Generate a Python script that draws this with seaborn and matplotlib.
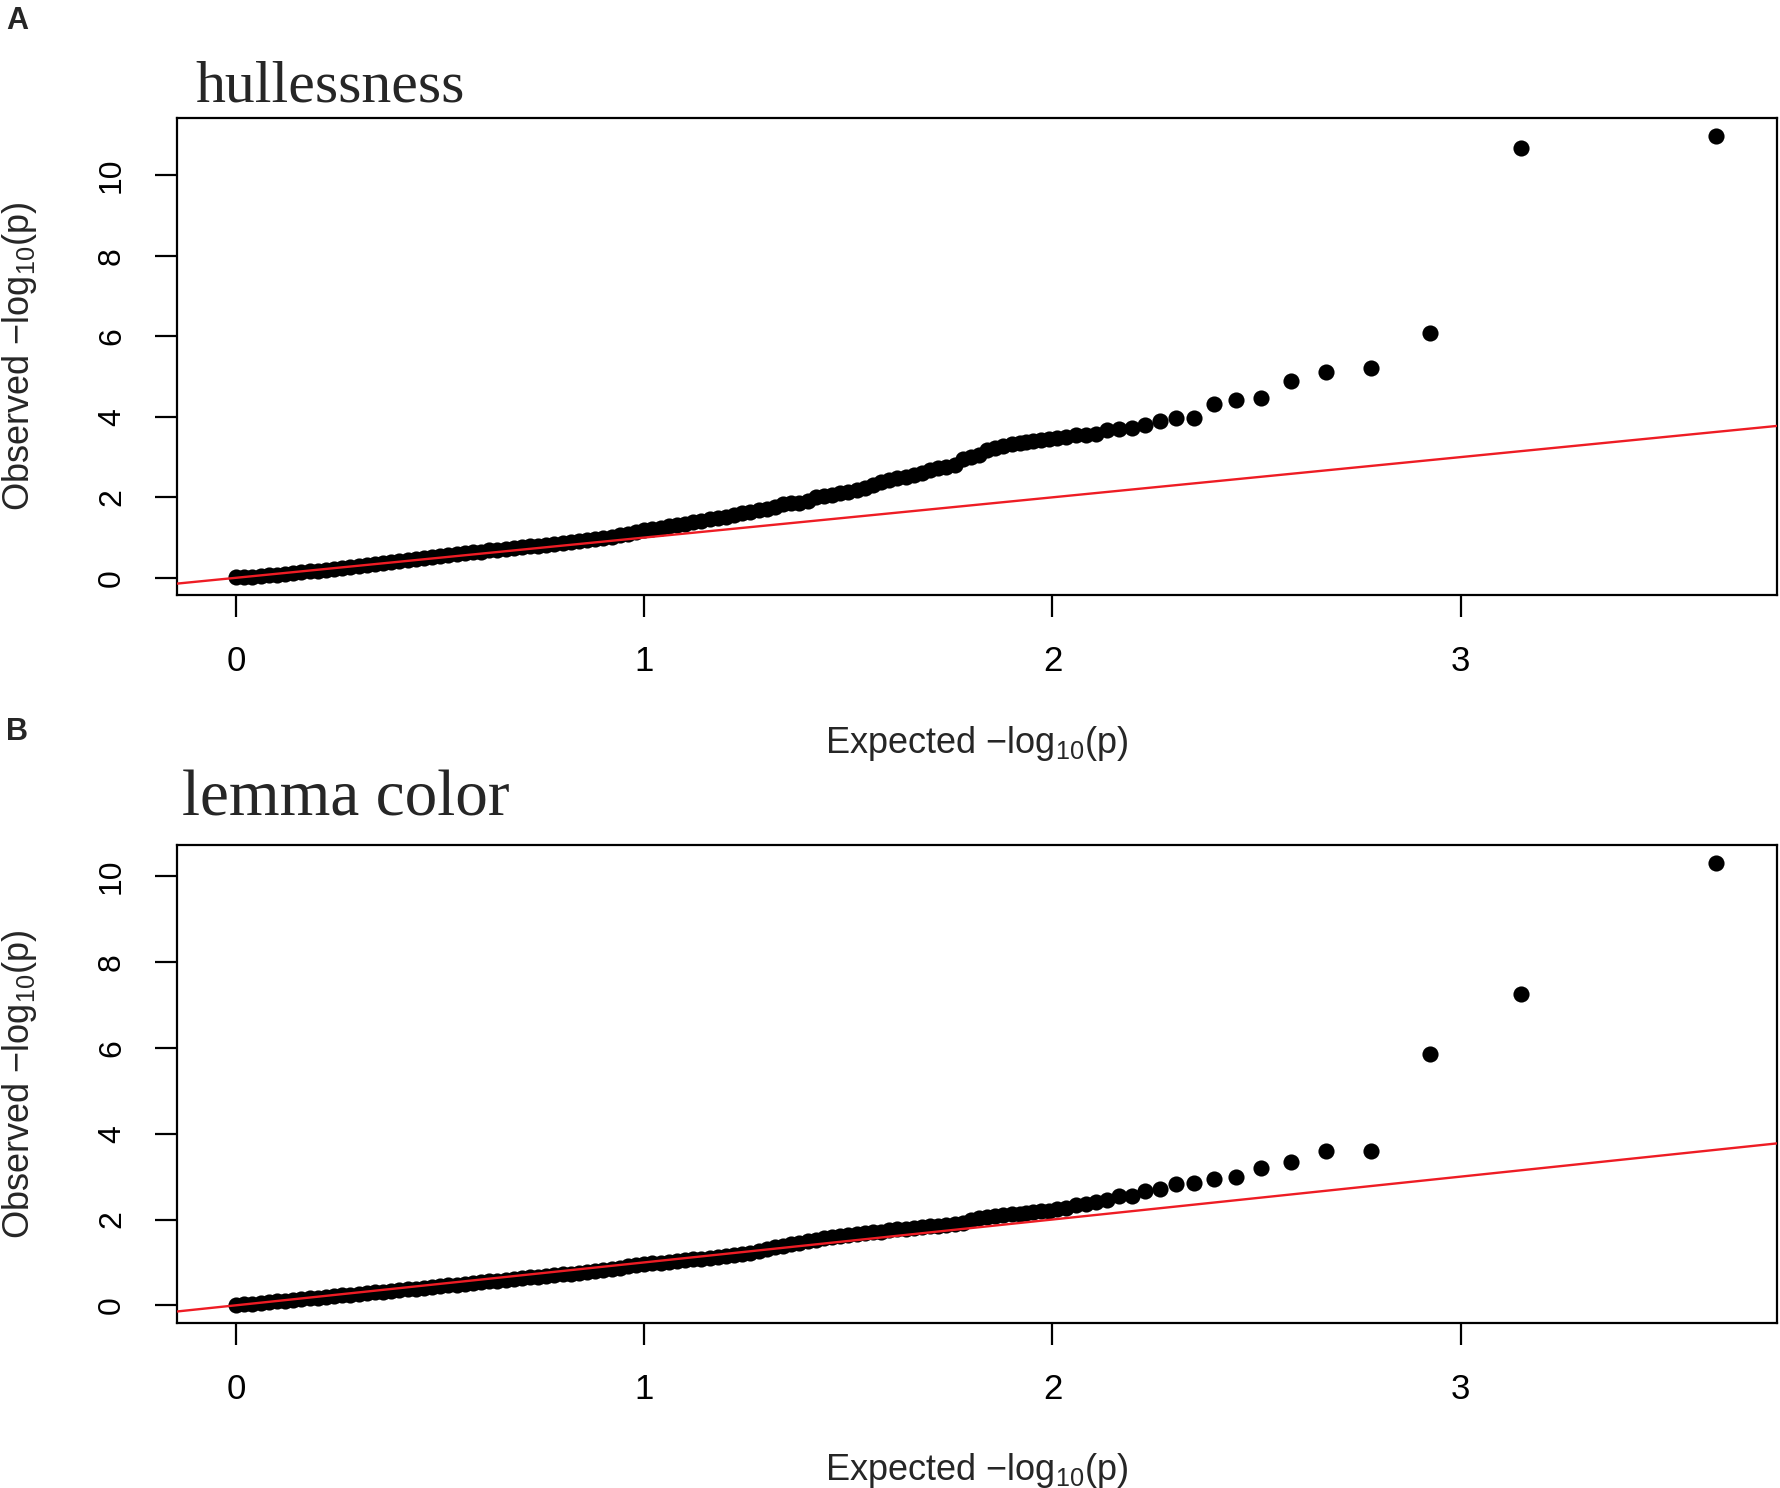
import numpy as np
import pandas as pd
import seaborn as sns
import matplotlib.pyplot as plt
from matplotlib import font_manager

sns.set_theme(style="ticks")

# шрифты
sans = "Liberation Sans"
names = {f.name for f in font_manager.fontManager.ttflist}
if sans not in names:
    sans = "DejaVu Sans"
plt.rcParams['font.family'] = [sans, 'DejaVu Sans']
plt.rcParams['mathtext.fontset'] = 'custom'
plt.rcParams['mathtext.rm'] = sans
plt.rcParams['mathtext.default'] = 'regular'

# Expected -log10(p) (общая для обеих панелей)
expected = [
    0.00, 0.02, 0.04, 0.06, 0.08, 0.10, 0.12, 0.14, 0.16, 0.18,
    0.20, 0.22, 0.24, 0.26, 0.28, 0.30, 0.32, 0.34, 0.36, 0.38,
    0.40, 0.42, 0.44, 0.46, 0.48, 0.50, 0.52, 0.54, 0.56, 0.58,
    0.60, 0.62, 0.64, 0.66, 0.68, 0.70, 0.72, 0.74, 0.76, 0.78,
    0.80, 0.82, 0.84, 0.86, 0.88, 0.90, 0.92, 0.94, 0.96, 0.98,
    1.00, 1.02, 1.04, 1.06, 1.08, 1.10, 1.12, 1.14, 1.16, 1.18,
    1.20, 1.22, 1.24, 1.26, 1.28, 1.30, 1.32, 1.34, 1.36, 1.38,
    1.40, 1.42, 1.44, 1.46, 1.48, 1.50, 1.52, 1.54, 1.56, 1.58,
    1.60, 1.62, 1.64, 1.66, 1.68, 1.70, 1.72, 1.74, 1.76, 1.78,
    1.80, 1.82, 1.84, 1.86, 1.88, 1.90, 1.92,
    1.935, 1.952, 1.971, 1.991, 2.012, 2.034, 2.057, 2.081, 2.106, 2.134,
    2.163, 2.194, 2.227, 2.263, 2.303, 2.346, 2.395, 2.449, 2.511, 2.584,
    2.671, 2.780, 2.926, 3.148, 3.625,
]

# Observed -log10(p), hullessness
obs_hull = [
    0.01, 0.02, 0.03, 0.04, 0.06, 0.07, 0.10, 0.12, 0.14, 0.16,
    0.18, 0.20, 0.23, 0.25, 0.27, 0.30, 0.32, 0.34, 0.37, 0.39,
    0.41, 0.44, 0.46, 0.49, 0.51, 0.53, 0.56, 0.58, 0.61, 0.63,
    0.65, 0.68, 0.70, 0.72, 0.74, 0.76, 0.78, 0.80, 0.82, 0.84,
    0.86, 0.89, 0.91, 0.94, 0.96, 0.99, 1.02, 1.06, 1.10, 1.14,
    1.18, 1.21, 1.24, 1.28, 1.31, 1.34, 1.38, 1.41, 1.45, 1.49,
    1.52, 1.56, 1.60, 1.64, 1.68, 1.72, 1.77, 1.83, 1.85, 1.87,
    1.92, 2.00, 2.04, 2.07, 2.10, 2.13, 2.17, 2.24, 2.30, 2.38,
    2.43, 2.47, 2.51, 2.55, 2.61, 2.67, 2.72, 2.76, 2.80, 2.96,
    3.00, 3.04, 3.17, 3.23, 3.28, 3.32, 3.35,
    3.37, 3.39, 3.42, 3.45, 3.47, 3.49, 3.54, 3.55, 3.58, 3.67,
    3.70, 3.73, 3.80, 3.90, 3.96, 3.98, 4.31, 4.42, 4.46, 4.89,
    5.12, 5.22, 6.08, 10.68, 10.99,
]

# Observed -log10(p), lemma color
obs_lemma = [
    0.01, 0.02, 0.03, 0.05, 0.07, 0.09, 0.11, 0.12, 0.14, 0.16,
    0.18, 0.19, 0.21, 0.23, 0.25, 0.27, 0.28, 0.30, 0.32, 0.34,
    0.36, 0.38, 0.39, 0.41, 0.43, 0.45, 0.47, 0.48, 0.50, 0.52,
    0.54, 0.56, 0.57, 0.59, 0.61, 0.63, 0.65, 0.67, 0.68, 0.70,
    0.72, 0.74, 0.76, 0.78, 0.80, 0.83, 0.85, 0.88, 0.91, 0.94,
    0.96, 0.98, 0.99, 1.01, 1.03, 1.05, 1.07, 1.09, 1.10, 1.12,
    1.14, 1.17, 1.20, 1.23, 1.27, 1.31, 1.35, 1.38, 1.42, 1.46,
    1.50, 1.53, 1.56, 1.60, 1.62, 1.65, 1.66, 1.68, 1.70, 1.72,
    1.76, 1.78, 1.79, 1.81, 1.82, 1.84, 1.85, 1.87, 1.89, 1.93,
    1.99, 2.03, 2.06, 2.08, 2.10, 2.12, 2.14,
    2.15, 2.17, 2.19, 2.21, 2.24, 2.28, 2.33, 2.36, 2.41, 2.45,
    2.55, 2.55, 2.66, 2.72, 2.83, 2.85, 2.94, 3.00, 3.19, 3.35,
    3.60, 3.60, 5.85, 7.25, 10.32,
]

x_ticks = [0, 1, 2, 3]
y_ticks = [0, 2, 4, 6, 8, 10]
titles = ['hullessness', 'lemma color']
letters = ['A', 'B']

fig = plt.figure(figsize=(17.8, 14.88), dpi=100)
ax_a = fig.add_axes([0.0994, 0.6001, 0.8989, 0.3206])
ax_b = fig.add_axes([0.0994, 0.1112, 0.8989, 0.3209])

for ax, obs in [(ax_a, obs_hull), (ax_b, obs_lemma)]:
    df = pd.DataFrame({'expected': expected, 'observed': obs})
    sns.scatterplot(data=df, x='expected', y='observed', ax=ax,
                    color='black', s=135, linewidth=0, zorder=2)
    ax.axline((0, 0), slope=1, color='#ee1c24', lw=1.7, zorder=3)

    # пределы как в R (4% с каждой стороны)
    lo, hi = min(obs), max(obs)
    pad = 0.04 * (hi - lo)
    ax.set_ylim(lo - pad, hi + pad)
    ax.set_xlim(-0.145, 3.775)

    ax.set_xticks(x_ticks)
    ax.set_yticks(y_ticks)
    ax.tick_params(direction='out', length=16, width=1.6, colors='black')
    ax.tick_params(axis='x', pad=20, labelsize=25)
    ax.tick_params(axis='y', pad=20, labelsize=23)
    for lab in ax.get_yticklabels():
        lab.set_rotation(90)
        lab.set_va('center')
    for sp in ax.spines.values():
        sp.set_visible(True)
        sp.set_linewidth(1.6)
        sp.set_color('black')

    ax.set_xlabel('Expected \u2212log$_{10}$(p)', fontsize=26)
    ax.set_ylabel('Observed \u2212log$_{10}$(p)', fontsize=26)
    ax.xaxis.set_label_coords(0.5, -0.27)
    ax.yaxis.set_label_coords(-0.086, 0.5)
    ax.grid(False)

fig.text(195 / 1780, 1 - 102 / 1488, titles[0], fontsize=43,
         family=['Liberation Serif', 'DejaVu Serif'], ha='left', va='baseline')
fig.text(182 / 1780, 1 - 815 / 1488, titles[1], fontsize=47,
         family=['Liberation Serif', 'DejaVu Serif'], ha='left', va='baseline')

fig.text(6 / 1780, 1 - 29 / 1488, letters[0], fontsize=22, weight='bold',
         ha='left', va='baseline')
fig.text(6 / 1780, 1 - 740 / 1488, letters[1], fontsize=22, weight='bold',
         ha='left', va='baseline')

fig.savefig('out.png', dpi=100, facecolor='white')
